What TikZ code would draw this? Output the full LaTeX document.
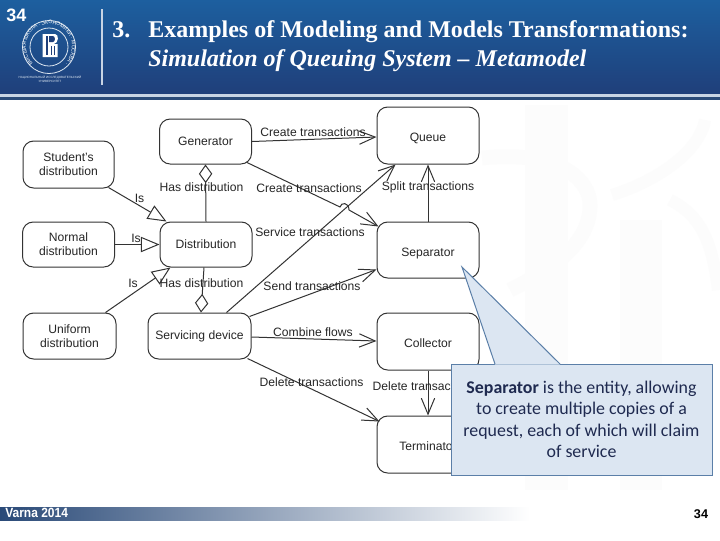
\documentclass[tikz,border=0pt]{standalone}
\usepackage{fontspec}
\setmainfont{Liberation Sans}
\newfontfamily\serifttl{Liberation Serif}
\newfontfamily\calloutfont{Carlito}
\usetikzlibrary{arrows.meta,calc,decorations.text}
\definecolor{hdrtop}{HTML}{1D5F9F}
\definecolor{hdrbot}{HTML}{1F3F7A}
\definecolor{ruledark}{HTML}{2A4A78}
\definecolor{rulelight}{HTML}{C8D4E4}
\definecolor{boxline}{HTML}{333333}
\definecolor{notefill}{HTML}{DCE6F2}
\definecolor{noteline}{HTML}{5B7FA8}
\definecolor{notetext}{HTML}{1F2A50}
\definecolor{faint}{HTML}{FCFCFC}
\newcommand{\lowtxt}[2][-2pt]{\raisebox{#1}[7pt][2pt]{#2}}
\tikzset{
  box/.style n args={2}{draw=boxline,line width=0.75pt,rounded corners=8pt,fill=white,
    minimum width=#1*0.75pt,minimum height=#2*0.75pt,inner sep=0pt,align=center,
    font=\fontsize{9.1}{10.6}\selectfont,text=black!85},
  lab/.style={inner sep=0pt,font=\fontsize{9.1}{10.6}\selectfont,text=black!85},
  conn/.style={draw=black!80,line width=0.75pt},
  flow/.style={conn,-{Straight Barb[length=12pt,width=10pt,line width=0.75pt]}},
  isa/.style={conn,-{Triangle[open,fill=white,length=14pt,width=11.5pt,line width=0.75pt]}},
  has/.style={conn,-{Diamond[open,fill=white,length=14pt,width=10pt,line width=0.75pt]}},
  ttl/.style={anchor=base west,inner sep=0pt,text=white,font=\serifttl\bfseries\fontsize{18}{20}\selectfont},
}
\begin{document}
\begin{tikzpicture}[x=0.75pt,y=-0.75pt]
\useasboundingbox (0,0) rectangle (720,540);
% background watermark
\fill[white] (0,0) rectangle (720,540);
\fill[faint] (525,105) rectangle (568,490);
\fill[faint] (620,220) rectangle (662,490);
\draw[faint,line width=11pt] (482,158) .. controls (560,150) and (590,180) .. (590,205) .. controls (590,245) and (550,270) .. (510,290);
\draw[faint,line width=9pt] (612,195) .. controls (660,180) and (700,150) .. (705,120);
\draw[faint,line width=9pt] (670,200) .. controls (700,215) and (712,240) .. (718,290);
% header
\shade[top color=hdrtop,bottom color=hdrbot] (0,0) rectangle (720,94);
\fill[rulelight] (0,94) rectangle (720,97);
\fill[ruledark] (0,97) rectangle (720,100);
\node[anchor=center,inner sep=0pt,text=white,font=\bfseries\fontsize{13.5}{15}\selectfont] (pagenum) at (16.5,15) {34};
\draw[rulelight,line width=1.5pt] (102,9) -- (102,85);
% logo
\draw[white!85!hdrtop,line width=0.6pt] (49,47) circle (26.5);
\draw[white!85!hdrtop,line width=0.6pt] (49,47) circle (19);
\path[decorate,decoration={text along path,text align=center,
  text={|\fontsize{3.8}{4}\selectfont\color{white}|ВЫСШАЯ ШКОЛА · ЭКОНОМИКИ · МОСКВА ·}}]
  (49,70) arc[start angle=90,end angle=450,radius=23];
\fill[white] (43,34) -- (55,34) .. controls (59,34) and (59,43) .. (54,44) -- (57.5,44) -- (57.5,57) -- (42.5,57) -- (42.5,34) -- cycle;
\fill[hdrbot] (46,36) rectangle (47.5,55);
\fill[hdrbot] (49,36) -- (53,36) .. controls (55.5,36) and (55.5,42) .. (53,42) -- (49,42) -- cycle;
\fill[hdrbot] (50.5,46) rectangle (51.7,55);
\fill[hdrbot] (54,46) rectangle (55.2,55);
\node[inner sep=0pt,align=center,text=white!85!hdrtop,font=\fontsize{2.3}{3.4}\selectfont] (logotext) at (50,79) {НАЦИОНАЛЬНЫЙ ИССЛЕДОВАТЕЛЬСКИЙ\\УНИВЕРСИТЕТ};
% title
\node[ttl] (ttlnum) at (112,37) {3.};
\node[ttl] (ttlone) at (148,37) {Examples of Modeling and Models Transformations:};
\node[ttl,font=\serifttl\bfseries\itshape\fontsize{18}{20}\selectfont] (ttltwo) at (148,66) {Simulation of Queuing System – Metamodel};
% boxes
\node[box={92}{45}] (gen) at (205.5,141.5) {\lowtxt[-0.75pt]{Generator}};
\node[box={91}{47}] (stud) at (68.5,164.5) {Student's\\distribution};
\node[box={92}{45}] (norm) at (68.5,244.5) {Normal\\distribution};
\node[box={92}{45}] (dist) at (206,244.5) {Distribution};
\node[box={93}{46}] (unif) at (69.5,336) {Uniform\\distribution};
\node[box={103}{46}] (serv) at (199.5,336) {Servicing device};
\node[box={102}{57}] (queue) at (428,135.5) {\lowtxt{Queue}};
\node[box={102}{56}] (sep) at (428,250) {\lowtxt{Separator}};
\node[box={102}{57}] (coll) at (428,341.5) {\lowtxt{Collector}};
\node[box={102}{57}] (term) at (428,444.5) {\lowtxt{Terminator}};
% flows
\draw[flow] (gen.east) -- ($(queue.west)+(0,1.5)$);
\coordinate (hopa) at (340,207);
\coordinate (hopb) at (349,210);
\draw[flow] ($(gen.south east)+(-5,-2)$) -- (hopa) .. controls (341,202) and (349,202) .. (hopb) -- ($(sep.north west)+(2,5)$);
\draw[flow] ($(serv.north east)+(-25,0)$) -- ($(queue.south west)+(19,0)$);
\draw[flow] ($(serv.north east)+(-2,4)$) -- ($(sep.south west)+(0,-9)$);
\draw[flow] ($(serv.east)+(0,1)$) -- ($(coll.west)+(0,-0.5)$);
\draw[flow] ($(serv.south east)+(-4,-1)$) -- ($(term.north west)+(3,6)$);
\draw[flow] (coll.south) -- (term.north);
\draw[flow] (sep.north) -- (queue.south);
% aggregations
\draw[has] (dist.north) -- (gen.south);
\draw[has] ($(dist.south)+(-2,0)$) -- ($(serv.north)+(1.5,0)$);
% generalisations
\draw[isa] ($(stud.south east)+(-6,-1)$) -- ($(dist.north west)+(7,0)$);
\draw[isa] (norm.east) -- (dist.west);
\draw[isa] ($(unif.north east)+(-11,0)$) -- ($(dist.south west)+(11,0)$);
% labels
\node[lab] (l1) at (313,132) {Create transactions};
\node[lab] (l2) at (201.5,187) {Has distribution};
\node[lab] (l3) at (139.5,198) {Is};
\node[lab] (l4) at (136,238) {Is};
\node[lab] (l5) at (201.5,283) {Has distribution};
\node[lab] (l6) at (133,283) {Is};
\node[lab] (l7) at (309,188) {Create transactions};
\node[lab] (l8) at (310,232) {Service transactions};
\node[lab] (l9) at (428,187) {Split transactions};
\node[lab] (l10) at (312,286) {Send transactions};
\node[lab] (l11) at (313,332) {Combine flows};
\node[lab] (l12) at (311.5,382) {Delete transactions};
\node[lab] (l13) at (424.5,386) {Delete transactions};
% callout
\coordinate (tip) at (462,267);
\node[draw=noteline,fill=notefill,line width=0.75pt,minimum width=195.75pt,minimum height=83.25pt,inner sep=0pt] (note) at (581.5,419.5) {};
\fill[notefill] (tip) -- (495,364.7) -- (560,364.7) -- cycle;
\draw[noteline,line width=0.75pt] (495,364) -- (tip) -- (560,364);
\node[inner sep=0pt,align=center,text=notetext,font=\calloutfont\fontsize{13.4}{16.1}\selectfont] (notetxt) at (note.center) {\textbf{Separator} is the entity, allowing\\to create multiple copies of a\\request, each of which will claim\\of service};
% footer
\shade[left color=ruledark,right color=white] (0,507) rectangle (530,520);
\node[anchor=west,inner sep=0pt,text=white,font=\bfseries\fontsize{10}{12}\selectfont] (varna) at (5,512.5) {\scalebox{0.9}[1]{Varna 2014}};
\node[inner sep=0pt,text=black,font=\bfseries\fontsize{9.5}{11}\selectfont] (pagefoot) at (701,514.5) {34};
\end{tikzpicture}
\end{document}
